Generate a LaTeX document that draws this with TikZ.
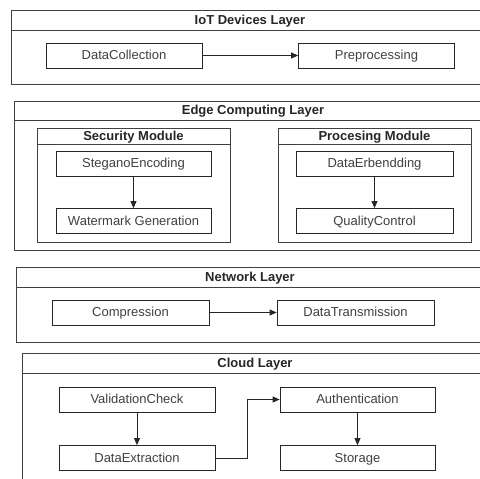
\documentclass[tikz,border=0pt]{standalone}
\usepackage{fontspec}
\setmainfont{Liberation Sans}
\usetikzlibrary{arrows.meta}

\tikzset{
  proc/.style={draw=black!85, line width=0.8pt, minimum height=25pt, minimum width=156pt,
    inner sep=0pt, text height=9pt, text depth=1pt, text=black!75,
    font=\fontsize{13}{15}\selectfont},
  layertitle/.style={text height=9pt, text depth=1pt, inner sep=0pt, text=black!85,
    font=\bfseries\fontsize{13}{15}\selectfont},
  frame/.style={draw=black!75, line width=0.8pt},
  flow/.style={draw=black!85, line width=0.8pt, -{Triangle[length=7pt,width=6pt]}}
}

\begin{document}
\begin{tikzpicture}[x=1pt,y=-1pt]
\clip (0,0) rectangle (480,479);
\fill[white] (0,0) rectangle (480,479);

% IoT devices layer
\draw[frame] (11,10) rectangle (490,84);
\draw[frame] (11,30) -- (490,30);
\node[layertitle] (iot) at (250,20) {IoT Devices Layer};
\node[proc] (collect) at (124,55.5) {DataCollection};
\node[proc] (prep) at (376.5,55.5) {Preprocessing};
\draw[flow] (collect) -- (prep);

% edge computing layer
\draw[frame] (14,101) rectangle (492,250);
\draw[frame] (14,120) -- (492,120);
\node[layertitle] (edge) at (253,110.5) {Edge Computing Layer};

\draw[frame] (37,128) rectangle (230,242);
\draw[frame] (37,144) -- (230,144);
\node[layertitle] (secmod) at (133.5,136) {Security Module};
\node[proc, minimum width=155pt] (stegano) at (133.5,163.5) {SteganoEncoding};
\node[proc, minimum width=155pt] (wmark) at (133.5,221) {Watermark Generation};
\draw[flow] (stegano) -- (wmark);

\draw[frame] (278,128) rectangle (471,242);
\draw[frame] (278,144) -- (471,144);
\node[layertitle] (procmod) at (374.5,136) {Procesing Module};
\node[proc, minimum width=157pt] (embed) at (374.5,163.5) {DataErbendding};
\node[proc, minimum width=157pt] (quality) at (374.5,221) {QualityControl};
\draw[flow] (embed) -- (quality);

% network layer
\draw[frame] (16,267) rectangle (484,342);
\draw[frame] (16,287) -- (484,287);
\node[layertitle] (net) at (250,277) {Network Layer};
\node[proc, minimum width=157pt] (compress) at (130.5,312.5) {Compression};
\node[proc, minimum width=157pt] (transmit) at (355.5,312.5) {DataTransmission};
\draw[flow] (compress) -- (transmit);

% cloud layer
\draw[frame] (22,353) rectangle (488,500);
\draw[frame] (22,373) -- (488,373);
\node[layertitle] (cloud) at (255,363) {Cloud Layer};
\node[proc] (valid) at (137,399.5) {ValidationCheck};
\node[proc] (extract) at (137,458) {DataExtraction};
\node[proc, minimum width=155pt] (auth) at (357.5,399.5) {Authentication};
\node[proc, minimum width=155pt] (store) at (357.5,458) {Storage};
\draw[flow] (valid) -- (extract);
\draw[flow] (extract.east) -- ++(32,0) |- (auth.west);
\draw[flow] (auth) -- (store);

\end{tikzpicture}
\end{document}
